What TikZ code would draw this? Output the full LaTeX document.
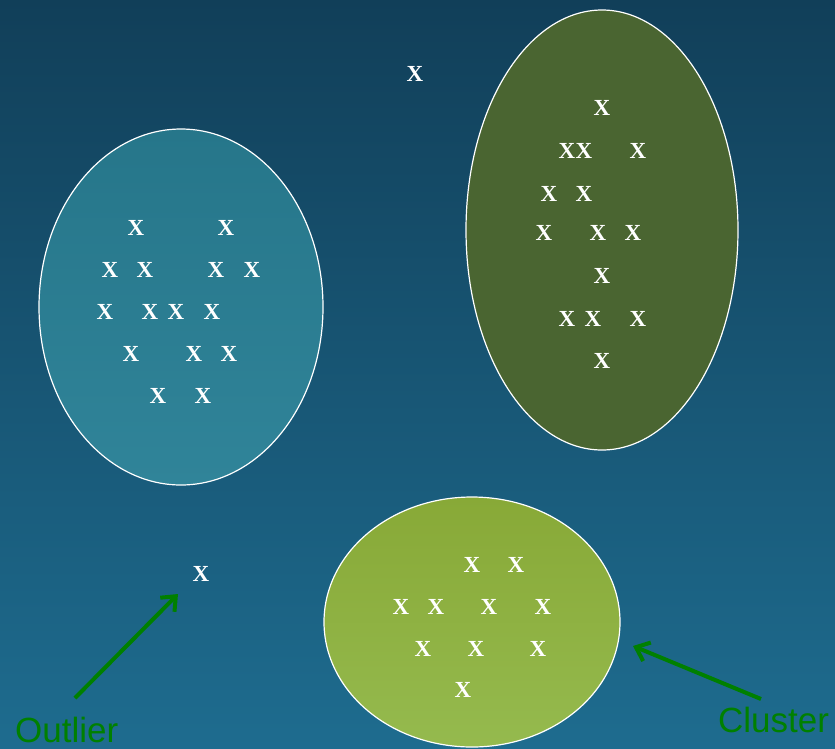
\documentclass[tikz,border=0pt]{standalone}
\usepackage{fontspec}
\setmainfont{Liberation Serif}
\newfontfamily\labelfont{Liberation Sans}
\usetikzlibrary{arrows.meta}
\definecolor{bgtop}{HTML}{113F59}
\definecolor{bgbot}{HTML}{1E6C8F}
\definecolor{tealtop}{HTML}{26768A}
\definecolor{tealbot}{HTML}{308499}
\definecolor{olivetop}{HTML}{4A6531}
\definecolor{limetop}{HTML}{88A937}
\definecolor{limebot}{HTML}{95BA4E}
\definecolor{arrowgreen}{HTML}{008000}
\tikzset{
  pt/.style={text=white, inner sep=0pt, font=\bfseries\fontsize{23}{23}\selectfont},
  blob/.style={draw=white, line width=1.2pt},
  pointer/.style={draw=arrowgreen, line width=4pt,
    -{Straight Barb[length=12pt,width=20pt,line width=4pt]}},
  tag/.style={text=arrowgreen, inner sep=0pt, anchor=base west,
    font=\labelfont\fontsize{35}{35}\selectfont}
}
\begin{document}
\begin{tikzpicture}[x=1pt,y=-1pt]
  \useasboundingbox (0,0) rectangle (835,748);
  % background
  \shade[top color=bgtop, bottom color=bgbot] (0,0) rectangle (835,748);
  % cluster regions
  \shade[top color=tealtop, bottom color=tealbot] (181,307) ellipse [x radius=142, y radius=178];
  \draw[blob] (181,307) ellipse [x radius=142, y radius=178];
  \fill[olivetop] (602,230) ellipse [x radius=136, y radius=220];
  \draw[blob] (602,230) ellipse [x radius=136, y radius=220];
  \shade[top color=limetop, bottom color=limebot] (472,622) ellipse [x radius=148, y radius=125];
  \draw[blob] (472,622) ellipse [x radius=148, y radius=125];
  % left cluster points
  \foreach \px/\py [count=\i] in {136/228,226/228,
      110/270,145/270,216/270,252/270,
      105/312,150/312,176/312,212/312,
      131/354,194/354,229/354,
      158/396,203/396}
    \node[pt] (a\i) at (\px,\py) {X};
  % right cluster points
  \foreach \px/\py [count=\i] in {602/108,
      567/151,584/151,638/151,
      549/194,584/194,
      544/233,598/233,633/233,
      602/276,
      567/319,593/319,638/319,
      602/361}
    \node[pt] (b\i) at (\px,\py) {X};
  % bottom cluster points
  \foreach \px/\py [count=\i] in {472/565,516/565,
      401/607,436/607,489/607,543/607,
      423/649,476/649,538/649,
      463/690}
    \node[pt] (c\i) at (\px,\py) {X};
  % isolated points
  \node[pt] (o1) at (415,74) {X};
  \node[pt] (o2) at (201,574) {X};
  % labels and pointers
  \node[tag] (outlier) at (15,742) {Outlier};
  \node[tag] (cluster) at (718,732) {Cluster};
  \coordinate (outtip) at (178,594);
  \coordinate (outtail) at (75,698);
  \coordinate (cltip) at (633,646);
  \coordinate (cltail) at (761,699);
  \draw[pointer] (outtail) -- (outtip);
  \draw[pointer] (cltail) -- (cltip);
\end{tikzpicture}
\end{document}
